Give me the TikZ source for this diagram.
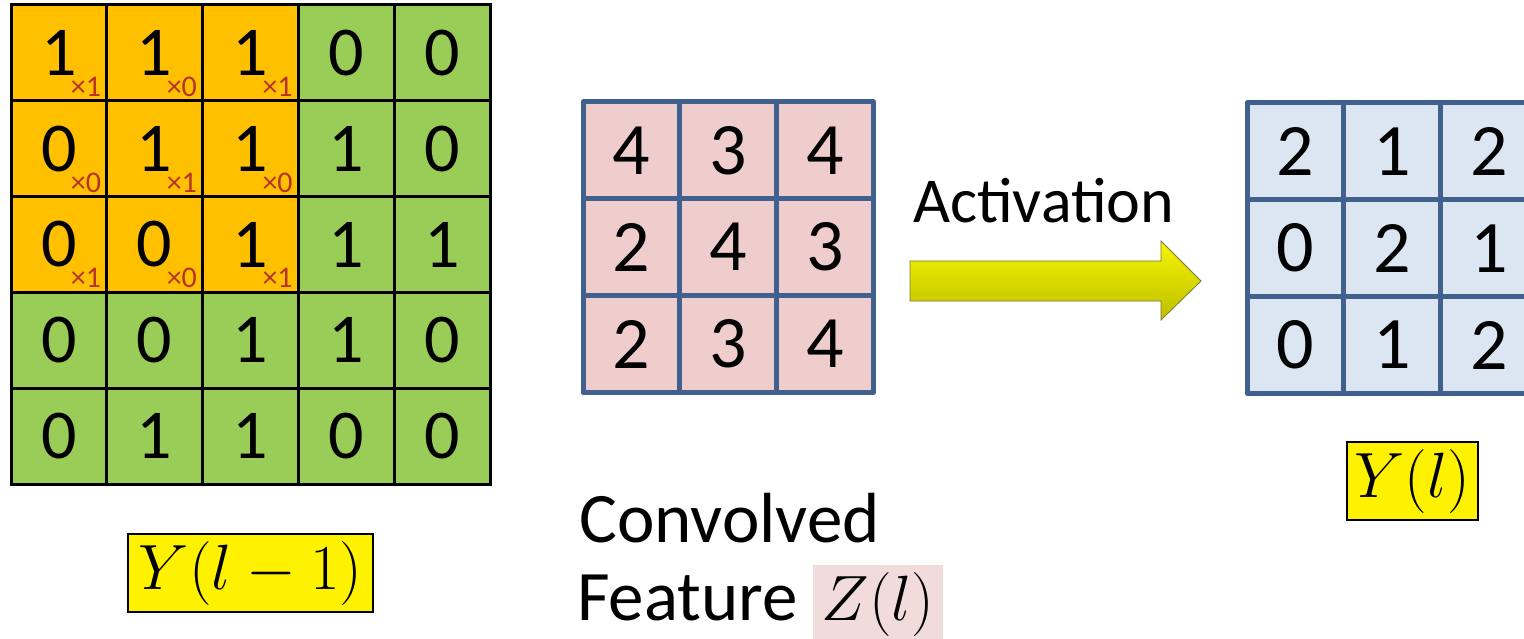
\RequirePackage{fix-cm}
\documentclass[tikz,border=0pt]{standalone}
\usepackage{fontspec}
\setmainfont{Carlito}
\usetikzlibrary{positioning}
\definecolor{cOrange}{RGB}{255,192,0}
\definecolor{cGreen}{RGB}{154,205,87}
\definecolor{cBlueLine}{RGB}{64,97,141}
\definecolor{cPink}{RGB}{240,205,205}
\definecolor{cLightBlue}{RGB}{220,230,242}
\definecolor{cZPink}{RGB}{242,220,219}
\definecolor{cSub}{RGB}{185,50,40}
\definecolor{cArrowTop}{RGB}{245,245,0}
\definecolor{cArrowBot}{RGB}{190,190,0}
\definecolor{cArrowLine}{RGB}{120,120,60}
\tikzset{
  lcell/.style={draw=black, line width=3pt, minimum width=95.8pt, minimum height=95.8pt,
    inner sep=0pt, font=\fontsize{70}{76}\selectfont},
  mcell/.style={draw=cBlueLine, line width=5pt, line join=round, minimum width=96.8pt,
    minimum height=96.8pt, inner sep=0pt, fill=cPink, font=\fontsize{74}{80}\selectfont},
  rcell/.style={mcell, fill=cLightBlue},
  subnum/.style={text=cSub, inner sep=0pt, anchor=base east, font=\fontsize{30}{32}\selectfont},
  labelbox/.style={draw=black, line width=1.5pt, fill=yellow, inner sep=0pt,
    font=\fontsize{64}{70}\selectfont},
  bigtext/.style={inner sep=0pt, anchor=base west, font=\fontsize{71}{76}\selectfont},
}
\begin{document}
\begin{tikzpicture}[x=1pt,y=-1pt]
\useasboundingbox (0,0) rectangle (1524,639);
\clip (0,0) rectangle (1524,639);
% left 5x5 grid
\foreach \r/\vals in {1/{1,1,1,0,0},2/{0,1,1,1,0},3/{0,0,1,1,1},4/{0,0,1,1,0},5/{0,1,1,0,0}}{
  \foreach \v [count=\c] in \vals {
    \pgfmathsetmacro{\isorange}{(\r<4 && \c<4) ? 1 : 0}
    \ifdim\isorange pt>0.5pt
      \node[lcell, fill=cOrange] (L\r\c) at ({11+95.8*(\c-0.5)},{5+95.8*(\r-0.5)}) {\v};
    \else
      \node[lcell, fill=cGreen] (L\r\c) at ({11+95.8*(\c-0.5)},{5+95.8*(\r-0.5)}) {\v};
    \fi
  }
}
% kernel weights
\foreach \r/\c/\w in {1/1/1,1/2/0,1/3/1,2/1/0,2/2/1,2/3/0,3/1/1,3/2/0,3/3/1}{
  \node[subnum] (S\r\c) at ([xshift=-7pt,yshift=6pt]L\r\c.south east) {\texttimes\w};
}
% middle 3x3 grid
\foreach \r/\vals in {1/{4,3,4},2/{2,4,3},3/{2,3,4}}{
  \foreach \v [count=\c] in \vals {
    \node[mcell] (M\r\c) at ({583+96.8*(\c-0.5)},{102+96.8*(\r-0.5)}) {\v};
  }
}
% right 3x3 grid
\foreach \r/\vals in {1/{2,1,2},2/{0,2,1},3/{0,1,2}}{
  \foreach \v [count=\c] in \vals {
    \node[rcell] (R\r\c) at ({1247+96.8*(\c-0.5)},{103+96.8*(\r-0.5)}) {\v};
  }
}
% activation arrow
\coordinate (A0) at (910,281);
\coordinate (A1) at (1201,281);
\shade[top color=cArrowTop, bottom color=cArrowBot, draw=cArrowLine, line width=0.8pt, line join=miter]
  (910,261) -- (1161,261) -- (1161,241) -- (A1) -- (1161,320) -- (1161,301) -- (910,301) -- cycle;
\node[inner sep=0pt, anchor=base west, font=\fontsize{64}{70}\selectfont] (act) at (913,223) {Activation};
% labels
\node[labelbox, minimum width=245pt, minimum height=78pt] (Ylm1) at (250.5,573) {$Y(l-1)$};
\node[labelbox, minimum width=131pt, minimum height=78pt] (Yl) at (1412.5,481) {$Y(l)$};
\node[bigtext] (conv) at (579,542) {Convolved};
\node[bigtext] (feat) at (577,620) {Feature};
\fill[cZPink] (813,565) rectangle (943,645);
\node[inner sep=0pt, font=\fontsize{64}{70}\selectfont, anchor=base] (Zl) at (878,620) {$Z(l)$};
\end{tikzpicture}
\end{document}
